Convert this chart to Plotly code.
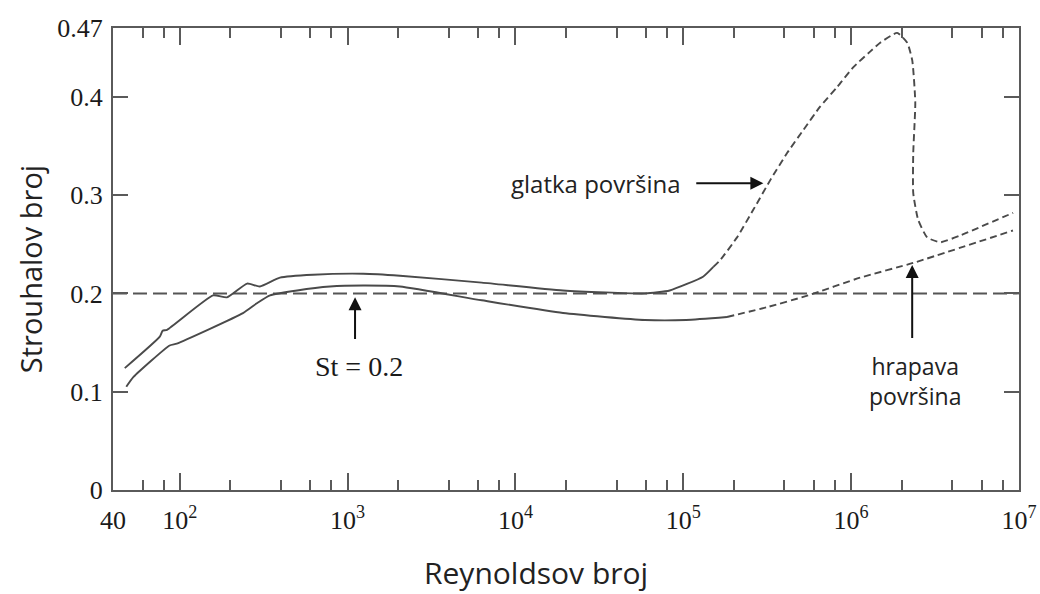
import math
import plotly.graph_objects as go

# Strouhal number vs Reynolds number (cylinder)
upper_re = [47, 76, 79, 84, 158, 191, 252, 300, 395, 622, 1240, 2050, 6300, 19200, 59000, 83000, 131000, 151000]
upper_st = [0.124, 0.156, 0.162, 0.163, 0.198, 0.196, 0.210, 0.207, 0.216, 0.219, 0.220, 0.218, 0.211, 0.203, 0.200, 0.203, 0.217, 0.227]

smooth_re = [151000, 166000, 209000, 261000, 329000, 416000, 518000, 653000, 826000, 1028000, 1297000,
             1489000, 1879000, 2158000, 2312000, 2410000, 2344000, 2344000, 2506000, 2838000, 3396000,
             4467000, 9226000]
smooth_st = [0.227, 0.234, 0.257, 0.285, 0.315, 0.343, 0.366, 0.390, 0.410, 0.430, 0.446,
             0.455, 0.465, 0.455, 0.437, 0.394, 0.343, 0.302, 0.275, 0.257, 0.252,
             0.259, 0.282]

lower_re = [48, 53, 87, 96, 238, 288, 345, 500, 785, 1240, 2050, 6300, 19200, 59000, 104000, 182000]
lower_st = [0.105, 0.115, 0.147, 0.149, 0.180, 0.190, 0.198, 0.203, 0.207, 0.208, 0.207, 0.193, 0.180, 0.173, 0.173, 0.176]

rough_re = [182000, 315000, 555000, 1130000, 2340000, 9200000]
rough_st = [0.176, 0.186, 0.198, 0.216, 0.231, 0.264]

ref_re = [40, 1e7]
ref_st = [0.2, 0.2]

x_ticks = [40, 1e2, 1e3, 1e4, 1e5, 1e6, 1e7]
x_labels = ["40", "10<sup>2</sup>", "10<sup>3</sup>", "10<sup>4</sup>", "10<sup>5</sup>", "10<sup>6</sup>", "10<sup>7</sup>"]
x_minor = [60, 80] + [m * 10 ** e for e in range(2, 7) for m in (2, 4, 6, 8)]
y_ticks = [0, 0.1, 0.2, 0.3, 0.4, 0.47]
y_labels = ["0", "0.1", "0.2", "0.3", "0.4", "0.47"]

line_col = "#4a4a4a"
axis_col = "#5a5a5a"
serif = "Liberation Serif, Times New Roman, serif"
sans = "Open Sans, Noto Sans, sans-serif"

fig = go.Figure()
fig.add_trace(go.Scatter(x=ref_re, y=ref_st, mode="lines",
                         line={"color": "#555", "width": 2, "dash": "14px,6px"}))
for xs, ys, dash in [(upper_re, upper_st, "solid"), (lower_re, lower_st, "solid"),
                     (smooth_re, smooth_st, "7px,4px"), (rough_re, rough_st, "7px,4px")]:
    fig.add_trace(go.Scatter(x=xs, y=ys, mode="lines",
                             line={"color": line_col, "width": 1.9, "dash": dash,
                                   "shape": "spline", "smoothing": 0.5}))

lg = math.log10
arrow = dict(showarrow=True, arrowhead=2, arrowsize=1.3, arrowwidth=2, arrowcolor="#111",
             axref="x", ayref="y", text="")
# St = 0.2
fig.add_annotation(x=lg(1107), y=0.196, ax=lg(1107), ay=0.152, **arrow)
fig.add_annotation(x=lg(1170), y=0.126, text="St = 0.2", showarrow=False,
                   font={"family": serif, "size": 28, "color": "#1a1a1a"})
# glatka površina
fig.add_annotation(x=lg(300000), y=0.312, ax=lg(117000), ay=0.312, **arrow)
fig.add_annotation(x=lg(99000), y=0.312, text="glatka površina", showarrow=False, xanchor="right",
                   font={"family": sans, "size": 24, "color": "#222"})
# hrapava površina
fig.add_annotation(x=lg(2310000), y=0.229, ax=lg(2310000), ay=0.153, **arrow)
fig.add_annotation(x=lg(2400000), y=0.111, text="hrapava<br>površina", showarrow=False,
                   font={"family": sans, "size": 23, "color": "#222"})

# axis titles
fig.add_annotation(x=0.467, y=-0.178, xref="paper", yref="paper", text="Reynoldsov broj",
                   showarrow=False, xanchor="center", yanchor="middle",
                   font={"family": sans, "size": 30, "color": "#222"})
fig.add_annotation(x=-0.0916, y=0.478, xref="paper", yref="paper", text="Strouhalov broj",
                   showarrow=False, textangle=-90, xanchor="center", yanchor="middle",
                   font={"family": sans, "size": 29, "color": "#222"})

axis_common = dict(showline=True, linecolor=axis_col, linewidth=2, mirror="ticks", automargin=False,
                   ticks="inside", tickcolor=axis_col, tickwidth=2, showgrid=False, zeroline=False,
                   tickfont={"family": serif, "size": 26, "color": "#1a1a1a"})
fig.update_xaxes(type="log", range=[lg(40), 7], tickmode="array", tickvals=x_ticks, ticktext=x_labels,
                 ticklen=17, ticklabelstandoff=6,
                 minor={"tickvals": x_minor, "ticks": "inside", "ticklen": 10,
                        "tickcolor": axis_col, "tickwidth": 2},
                 **axis_common)
fig.update_yaxes(range=[0, 0.47], tickmode="array", tickvals=y_ticks, ticktext=y_labels,
                 ticklen=15, ticklabelstandoff=3, **axis_common)
fig.update_layout(width=1040, height=594, showlegend=False, plot_bgcolor="white", paper_bgcolor="white",
                  margin={"l": 113, "r": 21, "t": 28, "b": 104})
fig.write_html("out.html", config={"displayModeBar": False},
               post_script="document.body.style.margin='0';")
